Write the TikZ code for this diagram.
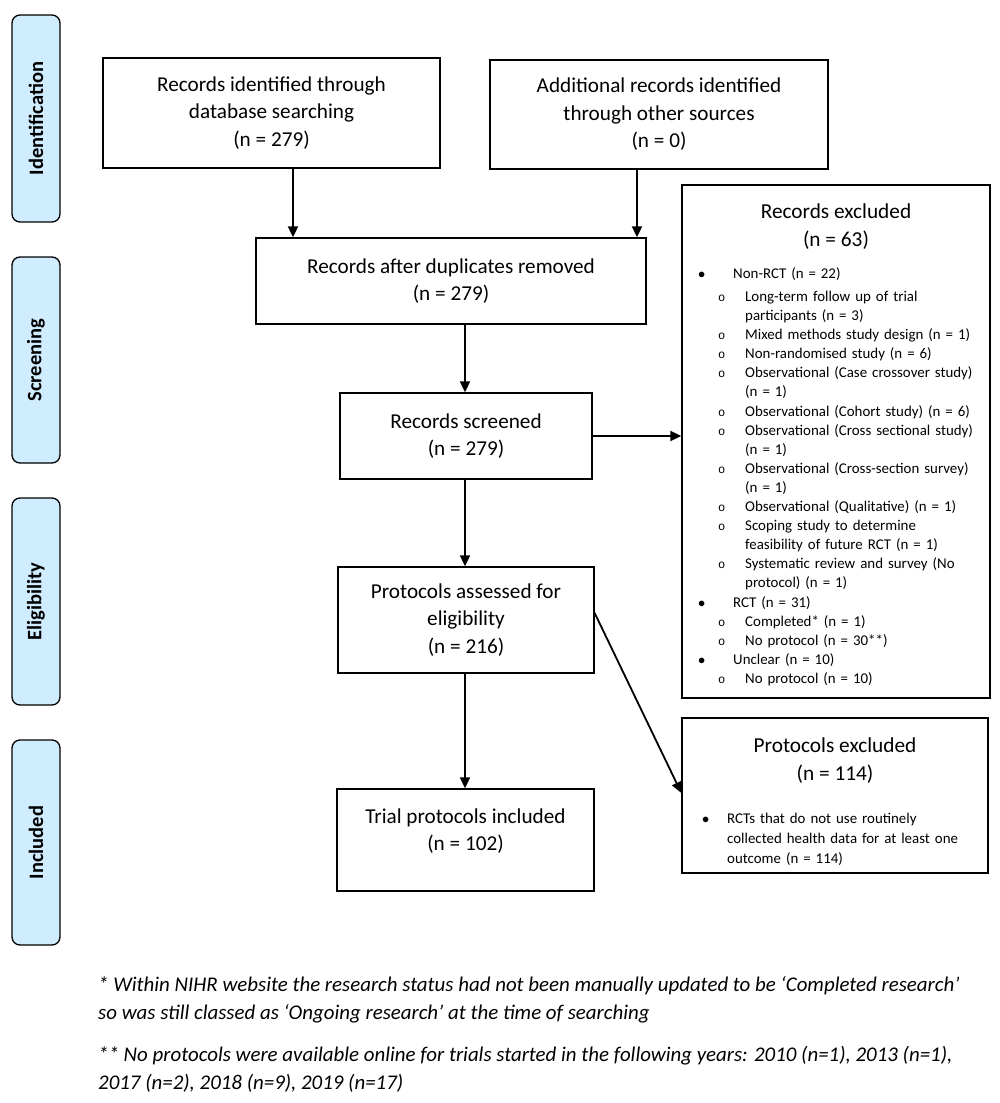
\documentclass[tikz,border=0pt]{standalone}
\usepackage{fontspec}
\setmainfont{Carlito}
\newfontfamily\monof{Liberation Mono}
\usetikzlibrary{arrows.meta}
\definecolor{sideblue}{HTML}{CFEDFF}
\newcommand\lvA[1]{\par\leftskip=0pt\noindent\llap{\makebox[35pt][l]{$\bullet$}}#1}
\newcommand\lvB[1]{\par\leftskip=12pt\noindent\llap{\makebox[27pt][l]{\monof\fontsize{12}{12}\selectfont o}}#1}
\begin{document}
\begin{tikzpicture}[x=1pt,y=-1pt,
  box/.style={draw,line width=1.3pt,inner sep=0pt,align=center,font=\fontsize{21.2}{27.5}\selectfont},
  plain/.style={draw,line width=1.3pt,inner sep=0pt},
  txt/.style={inner sep=0pt,align=center,font=\fontsize{21.2}{27.5}\selectfont},
  side/.style={draw,line width=1.3pt,rounded corners=8pt,fill=sideblue,inner sep=0pt,minimum width=48pt},
  sidetxt/.style={inner sep=0pt,rotate=90,font=\fontsize{20.5}{24}\selectfont\bfseries},
  arr/.style={line width=1.8pt,-{Triangle[length=11pt,width=10pt]}},
  foot/.style={inner sep=0pt,anchor=base west,align=left,font=\fontsize{20.9}{28}\selectfont\itshape},
]
\useasboundingbox (0,0) rectangle (1000,1103);

% side labels
\node[side,minimum height=207pt] (s1) at (36,118.5) {};
\node[sidetxt] (s1t) at (s1.center) {Identification};
\node[side,minimum height=206pt] (s2) at (36,360) {};
\node[sidetxt] (s2t) at (s2.center) {Screening};
\node[side,minimum height=207pt] (s3) at (36,601.5) {};
\node[sidetxt] (s3t) at (s3.center) {Eligibility};
\node[side,minimum height=205pt] (s4) at (36,842.5) {};
\node[sidetxt] (s4t) at (s4.center) {Included};

% main boxes
\node[box,minimum width=337pt,minimum height=110pt] (b1) at (271.5,113) {Records identified through\\database searching\\(n = 279)};
\node[box,minimum width=338pt,minimum height=109pt] (b2) at (659,114.5) {Additional records identified\\through other sources\\(n = 0)};
\node[box,minimum width=390pt,minimum height=86pt] (b3) at (451,281) {Records after duplicates removed\\(n = 279)};
\node[box,minimum width=252pt,minimum height=86pt] (b4) at (466,436) {Records screened\\(n = 279)};
\node[box,minimum width=256pt,minimum height=106pt] (b5) at (466,620) {Protocols assessed for\\eligibility\\(n = 216)};
\node[plain,minimum width=257pt,minimum height=102pt] (b6) at (465.5,840) {};
\node[txt] (b6t) at (465.5,831) {Trial protocols included\\(n = 102)};

% records excluded
\node[plain,minimum width=308pt,minimum height=513pt] (b7) at (836,441.5) {};
\node[txt,font=\fontsize{21.3}{28}\selectfont] (b7t) at (836,227) {Records excluded\\(n = 63)};
\node[inner sep=0pt,anchor=north west,text width=255pt,align=left,
      font=\fontsize{14.9}{19.1}\selectfont] (b7l) at (733,259) {%
\lvA{Non-RCT (n = 22)}\par\vspace{4pt}
\lvB{Long-term follow up of trial\newline participants (n = 3)}
\lvB{Mixed methods study design (n = 1)}
\lvB{Non-randomised study (n = 6)}
\lvB{Observational (Case crossover study)\newline (n = 1)}
\lvB{Observational (Cohort study) (n = 6)}
\lvB{Observational (Cross sectional study)\newline (n = 1)}
\lvB{Observational (Cross-section survey)\newline (n = 1)}
\lvB{Observational (Qualitative) (n = 1)}
\lvB{Scoping study to determine\newline feasibility of future RCT (n = 1)}
\lvB{Systematic review and survey (No\newline protocol) (n = 1)}
\lvA{RCT (n = 31)}
\lvB{Completed* (n = 1)}
\lvB{No protocol (n = 30**)}
\lvA{Unclear (n = 10)}
\lvB{No protocol (n = 10)}\par};

% protocols excluded
\node[plain,minimum width=306pt,minimum height=155pt] (b8) at (835,795.5) {};
\node[txt,font=\fontsize{21.3}{28}\selectfont] (b8t) at (835,761) {Protocols excluded\\(n = 114)};
\node[inner sep=0pt,anchor=north west,text width=258pt,align=left,
      font=\fontsize{14.9}{20}\selectfont] (b8l) at (727,803) {%
\par\noindent\llap{\makebox[25pt][l]{$\bullet$}}RCTs that do not use routinely\newline collected health data for at least one\newline outcome (n = 114)\par};

% connectors
\coordinate (c1) at (293,0);
\coordinate (c2) at (637,0);
\coordinate (c3) at (465,0);
\draw[arr] (b1.south -| c1) -- (b3.north -| c1);
\draw[arr] (b2.south -| c2) -- (b3.north -| c2);
\draw[arr] (b3.south -| c3) -- (b4.north -| c3);
\draw[arr] (b4.south -| c3) -- (b5.north -| c3);
\draw[arr] (b5.south -| c3) -- (b6.north -| c3);
\draw[arr] (b4.east) -- (b4.east -| b7.west);
\draw[arr] ([yshift=7pt]b5.east) -- ([yshift=2.5pt]b8.west);

% footnotes (base anchor = baseline of last line)
\node[foot] (f1) at (98,1019)
  {* Within NIHR website the research status had not been manually updated to be ‘Completed research’\\so was still classed as ‘Ongoing research’ at the time of searching};
\node[foot] (f2) at (98,1089)
  {** No protocols were available online for trials started in the following years: 2010 (n=1), 2013 (n=1),\\2017 (n=2), 2018 (n=9), 2019 (n=17)};
\end{tikzpicture}
\end{document}
